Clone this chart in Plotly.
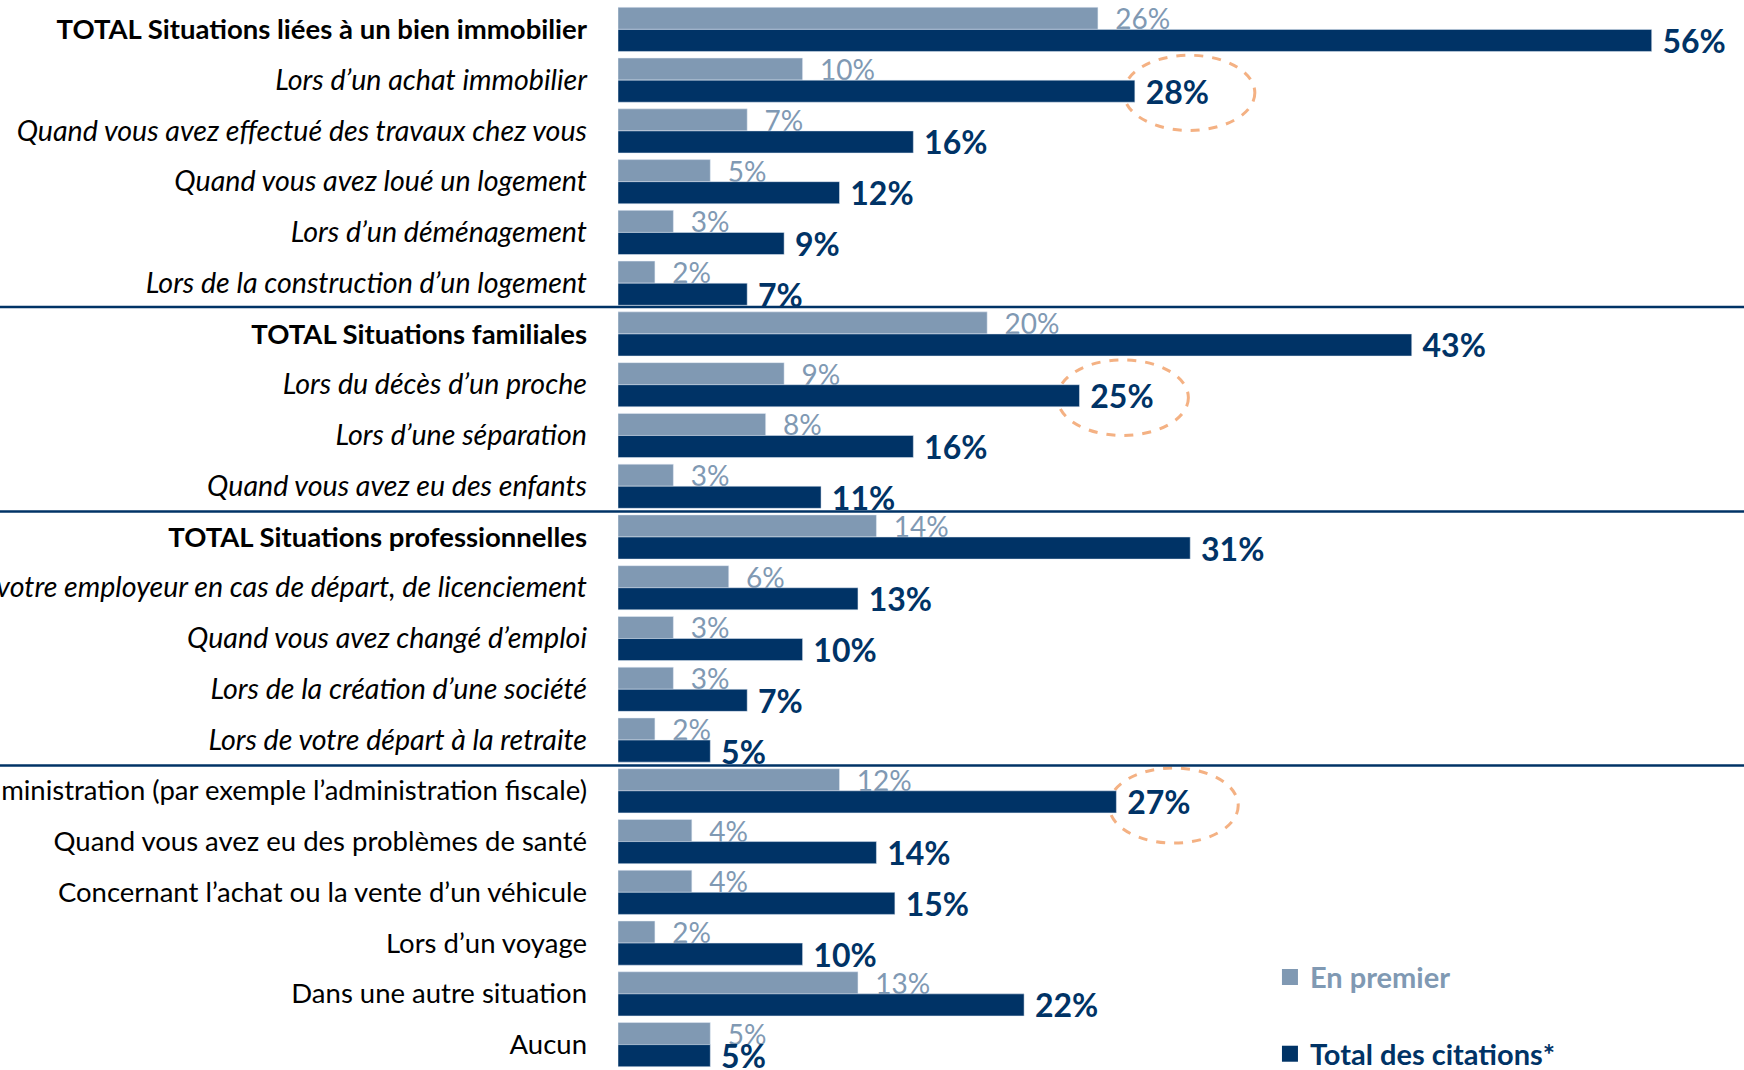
import plotly.graph_objects as go

categories = [
    "TOTAL Situations liées à un bien immobilier",
    "Lors d’un achat immobilier",
    "Quand vous avez effectué des travaux chez vous",
    "Quand vous avez loué un logement",
    "Lors d’un déménagement",
    "Lors de la construction d’un logement",
    "TOTAL Situations familiales",
    "Lors du décès d’un proche",
    "Lors d’une séparation",
    "Quand vous avez eu des enfants",
    "TOTAL Situations professionnelles",
    "Avec votre employeur en cas de départ, de licenciement",
    "Quand vous avez changé d’emploi",
    "Lors de la création d’une société",
    "Lors de votre départ à la retraite",
    "Avec l’administration (par exemple l’administration fiscale)",
    "Quand vous avez eu des problèmes de santé",
    "Concernant l’achat ou la vente d’un véhicule",
    "Lors d’un voyage",
    "Dans une autre situation",
    "Aucun",
]
en_premier = [26, 10, 7, 5, 3, 2, 20, 9, 8, 3, 14, 6, 3, 3, 2, 12, 4, 4, 2, 13, 5]
total_citations = [56, 28, 16, 12, 9, 7, 43, 25, 16, 11, 31, 13, 10, 7, 5, 27, 14, 15, 10, 22, 5]

LIGHT = "#8099B3"
DARK = "#003366"
ORANGE = "#F4B183"
FONT = "Lato"

# sub-items of the three TOTAL groups are shown in italics
italic_rows = set(categories[1:6] + categories[7:10] + categories[11:15])


def fmt(label):
    if label.startswith("TOTAL"):
        return f"<b>{label}</b>"
    if label in italic_rows:
        return f"<i><span style='font-size:28.6px'>{label}</span></i>"
    return label


fig = go.Figure()
fig.add_bar(
    y=categories,
    x=en_premier,
    orientation="h",
    name="En premier",
    marker_color=LIGHT,
    text=[f"\u00a0\u00a0{v}%" for v in en_premier],
    textposition="outside",
    textfont=dict(color=LIGHT, size=28, family=FONT),
    constraintext="none",
    cliponaxis=False,
    showlegend=False,
)
fig.add_bar(
    y=categories,
    x=total_citations,
    orientation="h",
    name="Total des citations*",
    marker_color=DARK,
    text=[f"<b>\u00a0{v}%</b>" for v in total_citations],
    textposition="outside",
    textfont=dict(color=DARK, size=32, family=FONT),
    constraintext="none",
    cliponaxis=False,
    showlegend=False,
)

# legend entries with larger square swatches
for name, color, grp in [("En premier", LIGHT, "a"), ("Total des citations*", DARK, "b")]:
    fig.add_scatter(
        x=[None], y=[None], mode="markers",
        marker=dict(symbol="square", size=16, color=color),
        name=f"<b><span style='color:{color}'>{name}</span></b>",
        legendgroup=grp,
    )

# group separators
for yv in [5.47, 9.5, 14.5]:
    fig.add_shape(type="line", xref="paper", yref="y", x0=-0.6, x1=1, y0=yv, y1=yv,
                  line=dict(color=DARK, width=2.5))

# dashed highlight ellipses
for x0, x1, y0, y1 in [(27.4, 34.5, 0.51, 1.99), (23.8, 30.9, 6.51, 8.0), (26.6, 33.6, 14.55, 16.03)]:
    fig.add_shape(type="circle", xref="x", yref="y", x0=x0, x1=x1, y0=y0, y1=y1,
                  layer="below", line=dict(color=ORANGE, width=3, dash="dash"))

fig.update_layout(
    width=1744,
    height=1070,
    margin=dict(l=618, r=0, t=4, b=0, autoexpand=False),
    barmode="group",
    bargap=0.13,
    bargroupgap=0,
    plot_bgcolor="white",
    paper_bgcolor="white",
    font=dict(family=FONT, color="black"),
    legend=dict(
        x=0.579, y=0.111, xanchor="left", yanchor="top",
        font=dict(size=29, family=FONT),
        traceorder="grouped", tracegroupgap=36,
        bgcolor="rgba(0,0,0,0)",
    ),
    xaxis=dict(range=[0, 61], visible=False),
    yaxis=dict(
        range=[20.5, -0.5],
        tickmode="array",
        tickvals=categories,
        ticktext=[fmt(c) for c in categories],
        tickfont=dict(size=27.5, family=FONT, color="black"),
        ticklabelstandoff=30,
        showgrid=False,
        zeroline=False,
        showline=False,
        automargin=False,
    ),
)

fig.write_html(
    "out.html",
    config={"displayModeBar": False},
    post_script="document.body.style.margin='0';",
)
